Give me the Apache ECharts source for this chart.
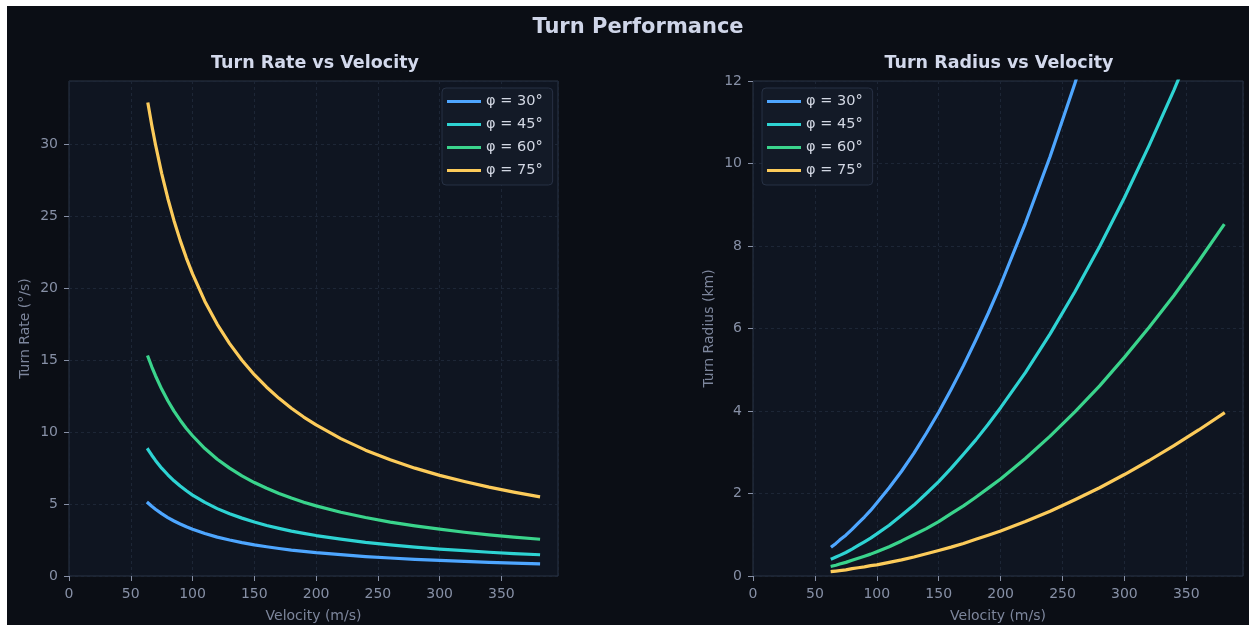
<!DOCTYPE html>
<html><head><meta charset="utf-8">
<script src="https://cdn.jsdelivr.net/npm/echarts@6/dist/echarts.min.js"></script>
<style>html,body{margin:0;padding:0;background:#fff;}#c{width:1250px;height:631px;}</style>
</head><body><div id="c"></div>
<script>
// Velocity samples (m/s)
const velocity = [64,67,70,75,80,85,90,95,100,110,120,130,140,150,160,170,180,190,200,220,240,260,280,300,320,340,360,380];
const seriesNames = ['φ = 30°','φ = 45°','φ = 60°','φ = 75°'];
// Turn rate (°/s)
const rate30 = [5.07,4.84,4.64,4.33,4.06,3.82,3.61,3.42,3.25,2.95,2.70,2.50,2.32,2.16,2.03,1.91,1.80,1.71,1.62,1.48,1.35,1.25,1.16,1.08,1.01,0.95,0.90,0.85];
const rate45 = [8.78,8.39,8.03,7.49,7.03,6.61,6.25,5.92,5.62,5.11,4.68,4.32,4.02,3.75,3.51,3.31,3.12,2.96,2.81,2.56,2.34,2.16,2.01,1.87,1.76,1.65,1.56,1.48];
const rate60 = [15.21,14.53,13.91,12.98,12.17,11.45,10.82,10.25,9.74,8.85,8.11,7.49,6.95,6.49,6.09,5.73,5.41,5.12,4.87,4.43,4.06,3.74,3.48,3.25,3.04,2.86,2.70,2.56];
const rate75 = [32.78,31.31,29.97,27.97,26.22,24.68,23.31,22.08,20.98,19.07,17.48,16.14,14.98,13.98,13.11,12.34,11.65,11.04,10.49,9.54,8.74,8.07,7.49,6.99,6.56,6.17,5.83,5.52];
// Turn radius (km)
const rad30 = [0.72,0.79,0.87,0.99,1.13,1.28,1.43,1.59,1.77,2.14,2.54,2.98,3.46,3.97,4.52,5.10,5.72,6.37,7.06,8.55,10.17,11.94,13.84];
const rad45 = [0.42,0.46,0.50,0.57,0.65,0.74,0.83,0.92,1.02,1.23,1.47,1.72,2.00,2.29,2.61,2.95,3.30,3.68,4.08,4.93,5.87,6.89,7.99,9.17,10.44,11.78,13.21];
const rad60 = [0.24,0.26,0.29,0.33,0.38,0.43,0.48,0.53,0.59,0.71,0.85,1.00,1.15,1.32,1.51,1.70,1.91,2.13,2.35,2.85,3.39,3.98,4.61,5.30,6.03,6.80,7.63,8.50];
const rad75 = [0.11,0.12,0.13,0.15,0.18,0.20,0.22,0.25,0.27,0.33,0.39,0.46,0.54,0.62,0.70,0.79,0.89,0.99,1.09,1.32,1.57,1.85,2.14,2.46,2.80,3.16,3.54,3.94];
const colors = ['#4ea6ff','#2ed3d3','#3ad48c','#fccb5a'];

const pairs = (ys) => ys.map((y,i)=>[velocity[i], y]);
const FONT = 'DejaVu Sans';
const tickColor = '#8790a6';
const frameColor = '#2b3547';

function xAxis(gi){
  return {type:'value', gridIndex:gi, min:0, max:395.8, interval:50,
    name:'Velocity (m/s)', nameLocation:'middle', nameGap:33,
    nameTextStyle:{color:'#7d869c', fontSize:14, fontFamily:FONT},
    axisLine:{show:false}, axisTick:{show:true, length:5, lineStyle:{color:tickColor}},
    axisLabel:{color:tickColor, fontSize:14, fontFamily:FONT, margin:11, showMaxLabel:false},
    splitLine:{show:true, lineStyle:{color:'#1d2636', type:[3,3]}}};
}
function yAxis(gi, max, interval, name){
  return {type:'value', gridIndex:gi, min:0, max:max, interval:interval,
    name:name, nameLocation:'middle', nameGap:37,
    nameTextStyle:{color:'#7d869c', fontSize:14, fontFamily:FONT},
    axisLine:{show:false}, axisTick:{show:true, length:5, lineStyle:{color:tickColor}},
    axisLabel:{color:tickColor, fontSize:14, fontFamily:FONT, margin:11, showMaxLabel: max===12},
    splitLine:{show:true, lineStyle:{color:'#1d2636', type:[3,3]}}};
}
function mkSeries(name, data, idx, gi){
  return {type:'line', name:name, xAxisIndex:gi, yAxisIndex:gi, data:data,
    showSymbol:false, smooth:false, clip:true,
    lineStyle:{width:3.2, color:colors[idx], cap:'square', join:'round'}, itemStyle:{color:colors[idx]}};
}
function legend(left){
  return {orient:'vertical', left:left, top:88, itemWidth:34, itemHeight:3, itemGap:8,
    icon:'rect', backgroundColor:'#131a27', borderColor:'#273144', borderWidth:1, borderRadius:4,
    padding:[6,10,7,5],
    textStyle:{color:'#d2d7e3', fontSize:14.5, fontFamily:FONT},
    data:seriesNames};
}

const chart = echarts.init(document.getElementById('c'));
chart.setOption({
  backgroundColor:'#ffffff',
  animation:false,
  graphic:[{type:'rect', shape:{x:7,y:6,width:1242,height:619}, style:{fill:'#0b0e15'}, z:-10, silent:true}],
  title:[
    {text:'Turn Performance', left:633, top:12, textAlign:'center', textStyle:{color:'#cfd5e8', fontSize:21, fontWeight:'bold', fontFamily:FONT}},
    {text:'Turn Rate vs Velocity', left:310, top:49, textAlign:'center', textStyle:{color:'#d3d9ec', fontSize:17.5, fontWeight:'bold', fontFamily:FONT}},
    {text:'Turn Radius vs Velocity', left:994, top:49, textAlign:'center', textStyle:{color:'#d3d9ec', fontSize:17.5, fontWeight:'bold', fontFamily:FONT}}
  ],
  grid:[
    {left:69, top:81, width:489, height:495, show:true, backgroundColor:'#0f1521', borderColor:frameColor, borderWidth:1},
    {left:753, top:81, width:490, height:495, show:true, backgroundColor:'#0f1521', borderColor:frameColor, borderWidth:1}
  ],
  xAxis:[xAxis(0), xAxis(1)],
  yAxis:[yAxis(0, 34.38, 5, 'Turn Rate (°/s)'), yAxis(1, 12, 2, 'Turn Radius (km)')],
  legend:[legend(442), legend(762)],
  series:[
    mkSeries(seriesNames[0], pairs(rate30), 0, 0),
    mkSeries(seriesNames[1], pairs(rate45), 1, 0),
    mkSeries(seriesNames[2], pairs(rate60), 2, 0),
    mkSeries(seriesNames[3], pairs(rate75), 3, 0),
    mkSeries(seriesNames[0], pairs(rad30), 0, 1),
    mkSeries(seriesNames[1], pairs(rad45), 1, 1),
    mkSeries(seriesNames[2], pairs(rad60), 2, 1),
    mkSeries(seriesNames[3], pairs(rad75), 3, 1)
  ]
});
</script></body></html>
